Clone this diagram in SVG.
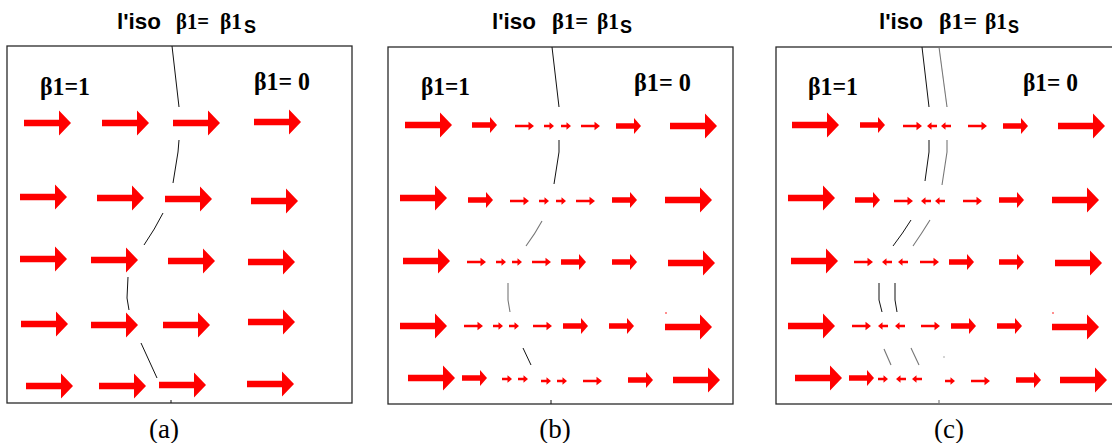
<svg xmlns="http://www.w3.org/2000/svg" width="1112" height="443" viewBox="0 0 1112 443">
<style>
.box{fill:#fff;stroke:#2a2a2a;stroke-width:1.3}
.iso{fill:none;stroke:#111;stroke-width:1}
.iso2{fill:none;stroke:#777;stroke-width:1.1}
.arr{fill:#ff0000}
.ts{font-family:"Liberation Sans",Arial,sans-serif;font-weight:bold;fill:#000}
.tb{font-family:"Liberation Serif","Times New Roman","DejaVu Serif",serif;font-weight:bold;fill:#000}
.cap{font-family:"Liberation Serif","Times New Roman",serif;font-size:27px;fill:#000;text-anchor:middle}
</style>
<defs>
<path id="B" class="arr" d="M0,-3.2 H35 V-12.5 L47,0 L35,12.5 V3.2 H0 Z"/>
<path id="M" class="arr" d="M0,-2.8 H18 V-8 L25,0 L18,8 V2.8 H0 Z"/>
<path id="S" class="arr" d="M0,-1.2 H13.5 V-4.2 L19,0 L13.5,4.2 V1.2 H0 Z"/>
<path id="T" class="arr" d="M0,-1.2 H5.5 V-3.8 L10,0 L5.5,3.8 V1.2 H0 Z"/>
</defs>
<rect width="1112" height="443" fill="#fff"/>

<g id="panel-a">
<rect class="box" x="7" y="46" width="345" height="357"/>
<text class="ts" x="117" y="29" font-size="22" textLength="44" lengthAdjust="spacingAndGlyphs">l'iso</text>
<text class="tb" x="176" y="29" font-size="24" textLength="33" lengthAdjust="spacingAndGlyphs">β1=</text>
<text class="tb" x="220" y="29" font-size="24" textLength="22" lengthAdjust="spacingAndGlyphs">β1</text>
<text class="ts" x="244" y="33" font-size="18" textLength="12" lengthAdjust="spacingAndGlyphs">S</text>
<text class="tb" x="40" y="95" font-size="25" textLength="50" lengthAdjust="spacingAndGlyphs">β1=1</text>
<text class="tb" x="254" y="90" font-size="25" textLength="56" lengthAdjust="spacingAndGlyphs">β1= 0</text>
<text class="cap" x="164" y="438">(a)</text>
</g>

<g id="panel-b">
<rect class="box" x="388" y="47" width="345" height="357"/>
<text class="ts" x="492" y="29" font-size="22" textLength="44" lengthAdjust="spacingAndGlyphs">l'iso</text>
<text class="tb" x="552" y="29" font-size="24" textLength="36" lengthAdjust="spacingAndGlyphs">β1=</text>
<text class="tb" x="597" y="29" font-size="24" textLength="22" lengthAdjust="spacingAndGlyphs">β1</text>
<text class="ts" x="620" y="33" font-size="18" textLength="12" lengthAdjust="spacingAndGlyphs">S</text>
<text class="tb" x="421" y="95" font-size="25" textLength="49" lengthAdjust="spacingAndGlyphs">β1=1</text>
<text class="tb" x="634" y="91" font-size="25" textLength="57" lengthAdjust="spacingAndGlyphs">β1= 0</text>
<text class="cap" x="555" y="438">(b)</text>
</g>

<g id="panel-c">
<rect class="box" x="776" y="47" width="345" height="357"/>
<text class="ts" x="879" y="29" font-size="22" textLength="44" lengthAdjust="spacingAndGlyphs">l'iso</text>
<text class="tb" x="939" y="29" font-size="24" textLength="38" lengthAdjust="spacingAndGlyphs">β1=</text>
<text class="tb" x="985" y="29" font-size="24" textLength="22" lengthAdjust="spacingAndGlyphs">β1</text>
<text class="ts" x="1008" y="33" font-size="18" textLength="11" lengthAdjust="spacingAndGlyphs">S</text>
<text class="tb" x="808" y="95" font-size="25" textLength="50" lengthAdjust="spacingAndGlyphs">β1=1</text>
<text class="tb" x="1023" y="91" font-size="25" textLength="55" lengthAdjust="spacingAndGlyphs">β1= 0</text>
<text class="cap" x="949" y="438">(c)</text>
</g>

<g id="iso-lines">
<path class="iso" d="M172,46 L179,107"/>
<path class="iso" d="M179,140 L178,152 L173,183"/>
<path class="iso" d="M163,213 Q155,229 144,245"/>
<path class="iso" d="M128,277 L127,298 L129,310"/>
<path class="iso" d="M141,343 L157,378"/>
<path class="iso" d="M171,400 L171,403"/>

<path class="iso" d="M552,47 L559,107"/>
<path class="iso" d="M559,140 L559,152 L554,184"/>
<path class="iso2" d="M542,221 Q535,234 526,246"/>
<path class="iso2" d="M508,283 L508,300 L510,312"/>
<path class="iso" d="M523,348 L531,365"/>
<path class="iso" d="M551,400 L551,404"/>

<path class="iso" d="M922,47 L929,107"/>
<path class="iso" d="M929,140 L929,152 L925,181"/>
<path class="iso" d="M911,220 Q903,233 893,246"/>
<path class="iso" d="M879,283 L879,300 L882,312"/>
<path class="iso2" d="M884,349 L891,365"/>
<path class="iso2" d="M939,47 L947,107"/>
<path class="iso2" d="M947,140 L947,152 L942,185"/>
<path class="iso2" d="M930,220 Q922,233 913,246"/>
<path class="iso" d="M895,283 L895,300 L897,312"/>
<path class="iso2" d="M911,348 L919,365"/>
<path class="iso2" d="M939,400 L939,404"/>
<circle cx="944" cy="357" r="0.7" fill="#888"/>
</g>

<g id="arrows-a">
<use href="#B" x="24" y="123"/><use href="#B" x="102" y="123"/><use href="#B" x="173" y="123"/><use href="#B" x="254" y="122"/>
<use href="#B" x="20" y="197"/><use href="#B" x="97" y="198"/><use href="#B" x="165" y="199"/><use href="#B" x="251" y="201"/>
<use href="#B" x="20" y="259"/><use href="#B" x="91" y="260"/><use href="#B" x="168" y="261"/><use href="#B" x="248" y="262"/>
<use href="#B" x="21" y="324"/><use href="#B" x="91" y="325"/><use href="#B" x="163" y="325"/><use href="#B" x="248" y="322"/>
<use href="#B" x="26" y="386"/><use href="#B" x="99" y="386"/><use href="#B" x="159" y="385"/><use href="#B" x="247" y="384"/>
</g>

<g id="arrows-b">
<use href="#B" x="405" y="125"/><use href="#M" x="472" y="125"/><use href="#S" x="515" y="126"/><use href="#T" x="544" y="126"/><use href="#T" x="561" y="126"/><use href="#S" x="581" y="126"/><use href="#M" x="616" y="126"/><use href="#B" x="670" y="126"/>
<use href="#B" x="400" y="198"/><use href="#M" x="468" y="200"/><use href="#S" x="510" y="201"/><use href="#T" x="539" y="201"/><use href="#T" x="556" y="201"/><use href="#S" x="576" y="201"/><use href="#M" x="612" y="200"/><use href="#B" x="665" y="200"/>
<use href="#B" x="403" y="261"/><use href="#S" x="467" y="262"/><use href="#T" x="496" y="262"/><use href="#T" x="512" y="262"/><use href="#S" x="532" y="262"/><use href="#M" x="561" y="262"/><use href="#M" x="612" y="262"/><use href="#B" x="668" y="263"/>
<use href="#B" x="400" y="326"/><use href="#S" x="464" y="326"/><use href="#T" x="493" y="326"/><use href="#T" x="509" y="326"/><use href="#S" x="533" y="326"/><use href="#M" x="563" y="326"/><use href="#M" x="609" y="326"/><use href="#B" x="665" y="327"/>
<circle cx="666" cy="313" r="0.8" fill="#f00"/>
<use href="#B" x="408" y="378"/><use href="#M" x="462" y="378"/><use href="#T" x="502" y="379"/><use href="#T" x="518" y="379"/><use href="#T" x="541" y="381"/><use href="#T" x="557" y="381"/><use href="#S" x="583" y="381"/><use href="#M" x="628" y="380"/><use href="#B" x="673" y="380"/>
</g>

<g id="arrows-c">
<use href="#B" x="792" y="125"/><use href="#M" x="860" y="125"/><use href="#S" x="903" y="126"/><use href="#T" transform="translate(937,126) scale(-1,1)"/><use href="#T" transform="translate(951,126) scale(-1,1)"/><use href="#S" x="968" y="126"/><use href="#M" x="1003" y="126"/><use href="#B" x="1058" y="126"/>
<use href="#B" x="788" y="198"/><use href="#M" x="855" y="200"/><use href="#S" x="894" y="201"/><use href="#T" transform="translate(931,201) scale(-1,1)"/><use href="#T" transform="translate(945,201) scale(-1,1)"/><use href="#S" x="963" y="201"/><use href="#M" x="999" y="200"/><use href="#B" x="1052" y="200"/>
<use href="#B" x="791" y="261"/><use href="#S" x="854" y="262"/><use href="#T" transform="translate(892,262) scale(-1,1)"/><use href="#T" transform="translate(908,262) scale(-1,1)"/><use href="#S" x="920" y="262"/><use href="#M" x="949" y="262"/><use href="#M" x="999" y="262"/><use href="#B" x="1055" y="263"/>
<use href="#B" x="788" y="326"/><use href="#S" x="852" y="326"/><use href="#T" transform="translate(888,326) scale(-1,1)"/><use href="#T" transform="translate(905,326) scale(-1,1)"/><use href="#S" x="921" y="326"/><use href="#M" x="951" y="326"/><use href="#M" x="997" y="326"/><use href="#B" x="1052" y="327"/>
<circle cx="1053" cy="313" r="0.8" fill="#f00"/>
<use href="#B" x="795" y="378"/><use href="#M" x="849" y="378"/><use href="#T" x="878" y="379"/><use href="#T" transform="translate(906,379) scale(-1,1)"/><use href="#T" transform="translate(922,379) scale(-1,1)"/><use href="#T" x="945" y="381"/><use href="#S" x="971" y="381"/><use href="#M" x="1016" y="380"/><use href="#B" x="1060" y="380"/>
</g>
</svg>
